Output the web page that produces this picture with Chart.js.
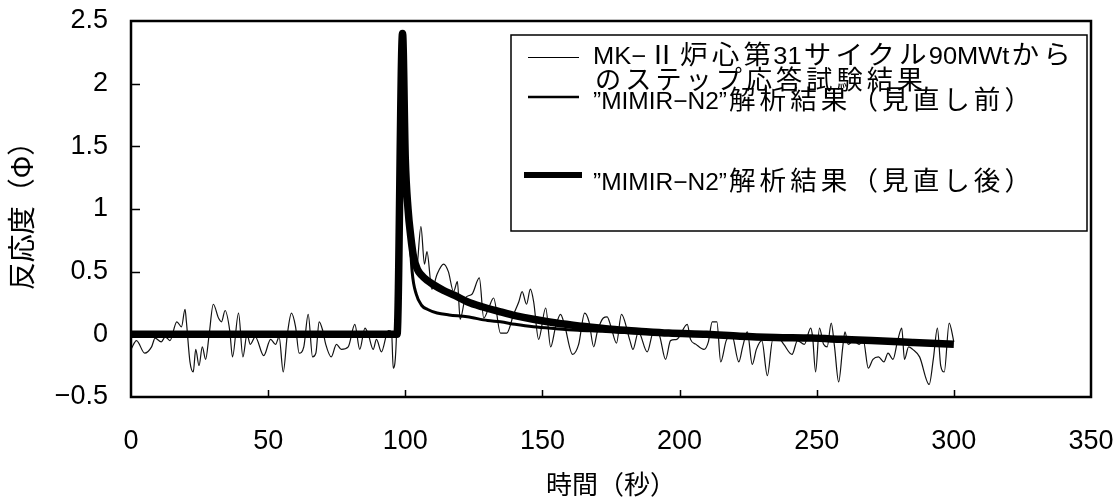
<!DOCTYPE html>
<html>
<head>
<meta charset="utf-8">
<script src="https://cdn.jsdelivr.net/npm/chart.js@4/dist/chart.umd.min.js"></script>
<style>
  html, body { margin: 0; padding: 0; background: #fff; }
  #c { display: block; }
</style>
</head>
<body>
<canvas id="c" width="1119" height="500"></canvas>
<script>
// Axis ticks
const xTickValues = [0, 50, 100, 150, 200, 250, 300, 350];
const yTickValues = [-0.5, 0, 0.5, 1, 1.5, 2, 2.5];
const yTickLabels = ['−0.5', '0', '0.5', '1', '1.5', '2', '2.5'];

// Axis titles
const xTitle = '時間（秒）';
const yTitle = '反応度（Φ）';

// Series names (legend rows)
const seriesNames = [
  ['MK−Ⅱ炉心第31サイクル90MWtから', 'のステップ応答試験結果'],
  ['”MIMIR−N2”解析結果（見直し前）'],
  ['”MIMIR−N2”解析結果（見直し後）']
];

// Measured step response (time [s], reactivity [$])
const measuredTime = [
  0, 2, 5, 7.5, 8.8, 11, 12.5, 14.2, 16.7, 18.4, 19.7, 20.2, 21.5, 22.7, 23.6, 24.8, 26, 27.2, 28.5, 30,
  31.9, 33, 34.3, 36, 37, 39.2, 40.8, 42.3, 43.5, 45.3, 48.4, 50.9, 52.7, 54, 55.5, 57, 58.5, 60, 61.3, 63,
  64.6, 66.2, 67.4, 68.6, 69.9, 71, 73, 74.9, 76.7, 79.2, 81.6, 83.4, 85.3, 86.5, 88.3, 89.5, 91.3, 93.8, 95, 95.6,
  96.8, 99, 100.5, 102.5, 104, 105.7, 107, 107.9, 109.7, 111.6, 114, 115.7, 117.6, 119, 120, 121.9, 124.3, 127, 128.6, 130.4,
  132.2, 134.7, 137, 139.5, 141.4, 142.6, 144.2, 145.6, 146.8, 148.6, 151.2, 153, 154.8, 156.6, 158, 161, 163.2, 165.4, 167, 168.7,
  170, 172.2, 173.6, 175, 177, 178.8, 181.9, 183, 185, 188.2, 190.5, 192.5, 194.9, 196.7, 199, 202.8, 204, 206, 208.9, 210.5,
  211.9, 213.6, 215, 217, 219, 221.6, 223, 224.7, 226.5, 228, 230, 232, 234, 236.5, 238, 241, 243, 245.5, 247.8, 248.5,
  249.6, 251, 252.5, 253.8, 255.3, 256.5, 258, 259.5, 260.3, 261.5, 263.5, 265.5, 267, 268.8, 270.5, 272.5, 274.5, 276, 277.8, 279.5,
  281, 282, 283.5, 285, 287.5, 291, 292.5, 294, 295.2, 296.5, 298.3, 300
];
const measuredValue = [
  -0.12, -0.05, -0.15, -0.1, -0.03, -0.06, -0.02, -0.05, 0.1, 0.06, 0.2, 0.1, -0.22, -0.3, -0.12, -0.25, -0.1, -0.2, 0, 0.24,
  0.13, 0.1, 0.19, 0.03, -0.18, 0.17, -0.18, 0, -0.08, -0.02, -0.17, -0.04, -0.08, -0.02, -0.3, 0, 0.17, 0.06, -0.15, -0.1,
  0.16, -0.18, -0.15, 0.1, 0.03, -0.08, -0.18, -0.08, -0.12, -0.1, 0.08, -0.12, 0.05, 0, -0.12, -0.04, -0.14, 0.03, 0.02, -0.27,
  0, 2.35, 1.2, 0.84, 0.5, 0.86, 0.56, 0.66, 0.36, 0.48, 0.56, 0.5, 0.34, 0.42, 0.12, 0.29, 0.32, 0.45, 0.13, 0.21,
  0.29, 0.01, 0.01, 0.16, 0.26, 0.34, 0.24, 0.36, 0.26, -0.04, 0.21, -0.1, 0.06, 0.16, 0.08, -0.16, -0.08, 0.17, 0.1, -0.1,
  0.02, 0.13, 0.14, 0.06, -0.07, 0.16, -0.05, -0.12, 0.02, -0.14, 0.02, 0, -0.2, -0.05, -0.04, 0.08, -0.04, -0.08, -0.12, -0.06,
  0.1, 0.1, -0.22, -0.05, 0, -0.22, -0.1, 0.02, -0.24, -0.12, -0.05, -0.33, -0.04, -0.04, -0.08, -0.16, -0.05, -0.08, 0.05, -0.02,
  -0.3, 0.05, -0.08, -0.1, 0.09, -0.1, -0.38, -0.1, 0.02, -0.08, -0.05, -0.08, -0.05, -0.27, -0.2, -0.18, -0.22, -0.15, -0.2, -0.05,
  0.05, -0.2, -0.1, -0.12, -0.18, -0.4, -0.2, 0.05, -0.25, -0.3, 0.09, -0.06
];

// MIMIR-N2 analysis, before revision
const beforeTime = [0, 97, 99, 100, 101, 102.5, 104, 106, 108, 111.6, 116, 122.6, 130, 134.7, 140, 146.7, 155, 163, 172, 178, 185];
const beforeValue = [0, 0, 2.4, 1.5, 1.06, 0.5, 0.32, 0.23, 0.2, 0.17, 0.155, 0.14, 0.11, 0.1, 0.08, 0.06, 0.045, 0.033, 0.024, 0.016, 0.01];

// MIMIR-N2 analysis, after revision
const afterTime = [0, 97, 99, 100, 101, 102, 103, 104.4, 106, 108, 110, 114, 118, 122.6, 128, 134.7, 140, 146.7, 155, 164.6,
  175, 185, 196, 210, 222, 235, 248, 259, 270, 285, 300];
const afterValue = [0, 0, 2.4, 1.4, 1.0, 0.78, 0.62, 0.52, 0.47, 0.43, 0.4, 0.35, 0.31, 0.26, 0.22, 0.18, 0.15, 0.12, 0.09, 0.064,
  0.04, 0.025, 0.01, 0, -0.015, -0.025, -0.03, -0.04, -0.05, -0.065, -0.08];

const toPoints = (xs, ys) => xs.map((x, i) => ({ x: x, y: ys[i] }));

// Plot frame and inward tick marks
const framePlugin = {
  id: 'frame',
  afterDatasetsDraw(chart) {
    const { ctx, chartArea: a, scales } = chart;
    ctx.save();
    ctx.strokeStyle = '#000';
    ctx.lineWidth = 1.5;
    ctx.beginPath();
    scales.y.ticks.forEach(t => {
      if (t.value <= scales.y.min || t.value >= scales.y.max) return;
      const y = Math.round(scales.y.getPixelForValue(t.value)) + 0.5;
      ctx.moveTo(a.left, y);
      ctx.lineTo(a.left + 9, y);
    });
    scales.x.ticks.forEach(t => {
      if (t.value <= scales.x.min || t.value >= scales.x.max) return;
      const x = Math.round(scales.x.getPixelForValue(t.value)) + 0.5;
      ctx.moveTo(x, a.bottom);
      ctx.lineTo(x, a.bottom - 7);
    });
    ctx.stroke();
    ctx.lineWidth = 2.5;
    ctx.strokeRect(a.left, a.top, a.right - a.left, a.bottom - a.top);
    ctx.restore();
  }
};

// Legend box with mixed Latin / Japanese text
const LATIN_FONT = '24px "Liberation Sans", Arial, sans-serif';
const CJK_FONT = '26px "Noto Sans CJK JP", sans-serif';
const CJK_ADVANCE = 30;
function isCJK(ch) {
  const c = ch.codePointAt(0);
  return c >= 0x2E80 || (c >= 0x2160 && c <= 0x217F);
}
function drawMixed(ctx, text, x, baseline, targetWidth) {
  const chars = Array.from(text);
  const widths = chars.map(ch => {
    if (isCJK(ch)) return CJK_ADVANCE;
    ctx.font = LATIN_FONT;
    return ctx.measureText(ch).width;
  });
  const total = widths.reduce((s, w) => s + w, 0);
  const sx = targetWidth ? targetWidth / total : 1;
  ctx.save();
  ctx.translate(x, baseline);
  ctx.scale(sx, 1);
  ctx.textBaseline = 'alphabetic';
  let cx = 0;
  chars.forEach((ch, i) => {
    if (isCJK(ch)) {
      ctx.font = CJK_FONT;
      ctx.textAlign = 'center';
      ctx.fillText(ch, cx + widths[i] / 2, 0);
    } else {
      ctx.font = LATIN_FONT;
      ctx.textAlign = 'left';
      ctx.fillText(ch, cx, 0);
    }
    cx += widths[i];
  });
  ctx.restore();
}

const legendPlugin = {
  id: 'boxLegend',
  afterDraw(chart) {
    const ctx = chart.ctx;
    const box = { left: 511, top: 35, right: 1087, bottom: 231 };
    ctx.save();
    ctx.fillStyle = '#fff';
    ctx.fillRect(box.left, box.top, box.right - box.left, box.bottom - box.top);
    ctx.strokeStyle = '#000';
    ctx.lineWidth = 1.5;
    ctx.strokeRect(box.left, box.top, box.right - box.left, box.bottom - box.top);

    const rows = [
      { lineY: 57.5, x0: 528, x1: 579, baselines: [64, 89], widths: [480, 332] },
      { lineY: 97, x0: 528, x1: 579, baselines: [109], widths: [440] },
      { lineY: 175, x0: 524, x1: 582, baselines: [190], widths: [440] }
    ];
    chart.data.datasets.forEach((ds, i) => {
      const r = rows[i];
      ctx.strokeStyle = '#000';
      ctx.lineWidth = ds.legendLineWidth;
      ctx.beginPath();
      ctx.moveTo(r.x0, r.lineY);
      ctx.lineTo(r.x1, r.lineY);
      ctx.stroke();
      ctx.fillStyle = '#000';
      seriesNames[i].forEach((line, j) => drawMixed(ctx, line, 593, r.baselines[j], r.widths[j]));
    });
    ctx.restore();
  }
};

new Chart(document.getElementById('c'), {
  type: 'line',
  data: {
    datasets: [
      {
        label: seriesNames[0].join(''),
        data: toPoints(measuredTime, measuredValue),
        borderColor: '#111',
        borderWidth: 1.2,
        legendLineWidth: 1,
        pointRadius: 0,
        cubicInterpolationMode: 'monotone',
        order: 3
      },
      {
        label: seriesNames[1].join(''),
        data: toPoints(beforeTime, beforeValue),
        borderColor: '#000',
        borderWidth: 3,
        legendLineWidth: 2.5,
        pointRadius: 0,
        cubicInterpolationMode: 'monotone',
        order: 2
      },
      {
        label: seriesNames[2].join(''),
        data: toPoints(afterTime, afterValue),
        borderColor: '#000',
        borderWidth: 7.5,
        legendLineWidth: 6,
        pointRadius: 0,
        cubicInterpolationMode: 'monotone',
        borderCapStyle: 'butt',
        order: 1
      }
    ]
  },
  options: {
    responsive: false,
    animation: false,
    events: [],
    layout: { padding: { top: 21, right: 28, left: 0, bottom: 0 } },
    plugins: { legend: { display: false }, tooltip: { enabled: false } },
    scales: {
      x: {
        type: 'linear',
        min: 0,
        max: 350,
        afterBuildTicks: s => { s.ticks = xTickValues.map(v => ({ value: v })); },
        afterFit: s => { s.height = 103; s.paddingLeft = 0; s.paddingRight = 0; },
        grid: { display: false, drawTicks: false, tickLength: 0 },
        border: { display: false },
        ticks: {
          color: '#000',
          font: { family: '"Liberation Sans", Arial, sans-serif', size: 27 },
          padding: 28,
          maxRotation: 0,
          autoSkip: false
        },
        title: {
          display: true,
          text: xTitle,
          color: '#000',
          font: { family: '"Noto Sans CJK JP", sans-serif', size: 26 },
          padding: { top: 0, bottom: 0 }
        }
      },
      y: {
        type: 'linear',
        min: -0.5,
        max: 2.5,
        afterBuildTicks: s => { s.ticks = yTickValues.map(v => ({ value: v })); },
        afterFit: s => { s.width = 131; s.paddingTop = 0; s.paddingBottom = 0; },
        grid: { display: false, drawTicks: false, tickLength: 0 },
        border: { display: false },
        ticks: {
          color: '#000',
          font: { family: '"Liberation Sans", Arial, sans-serif', size: 27 },
          padding: 23,
          autoSkip: false,
          callback: v => yTickLabels[yTickValues.indexOf(v)]
        },
        title: {
          display: true,
          text: yTitle,
          color: '#000',
          font: { family: '"Noto Sans CJK JP", sans-serif', size: 28 },
          padding: { top: 5, bottom: 0 }
        }
      }
    }
  },
  plugins: [framePlugin, legendPlugin]
});
</script>
</body>
</html>
